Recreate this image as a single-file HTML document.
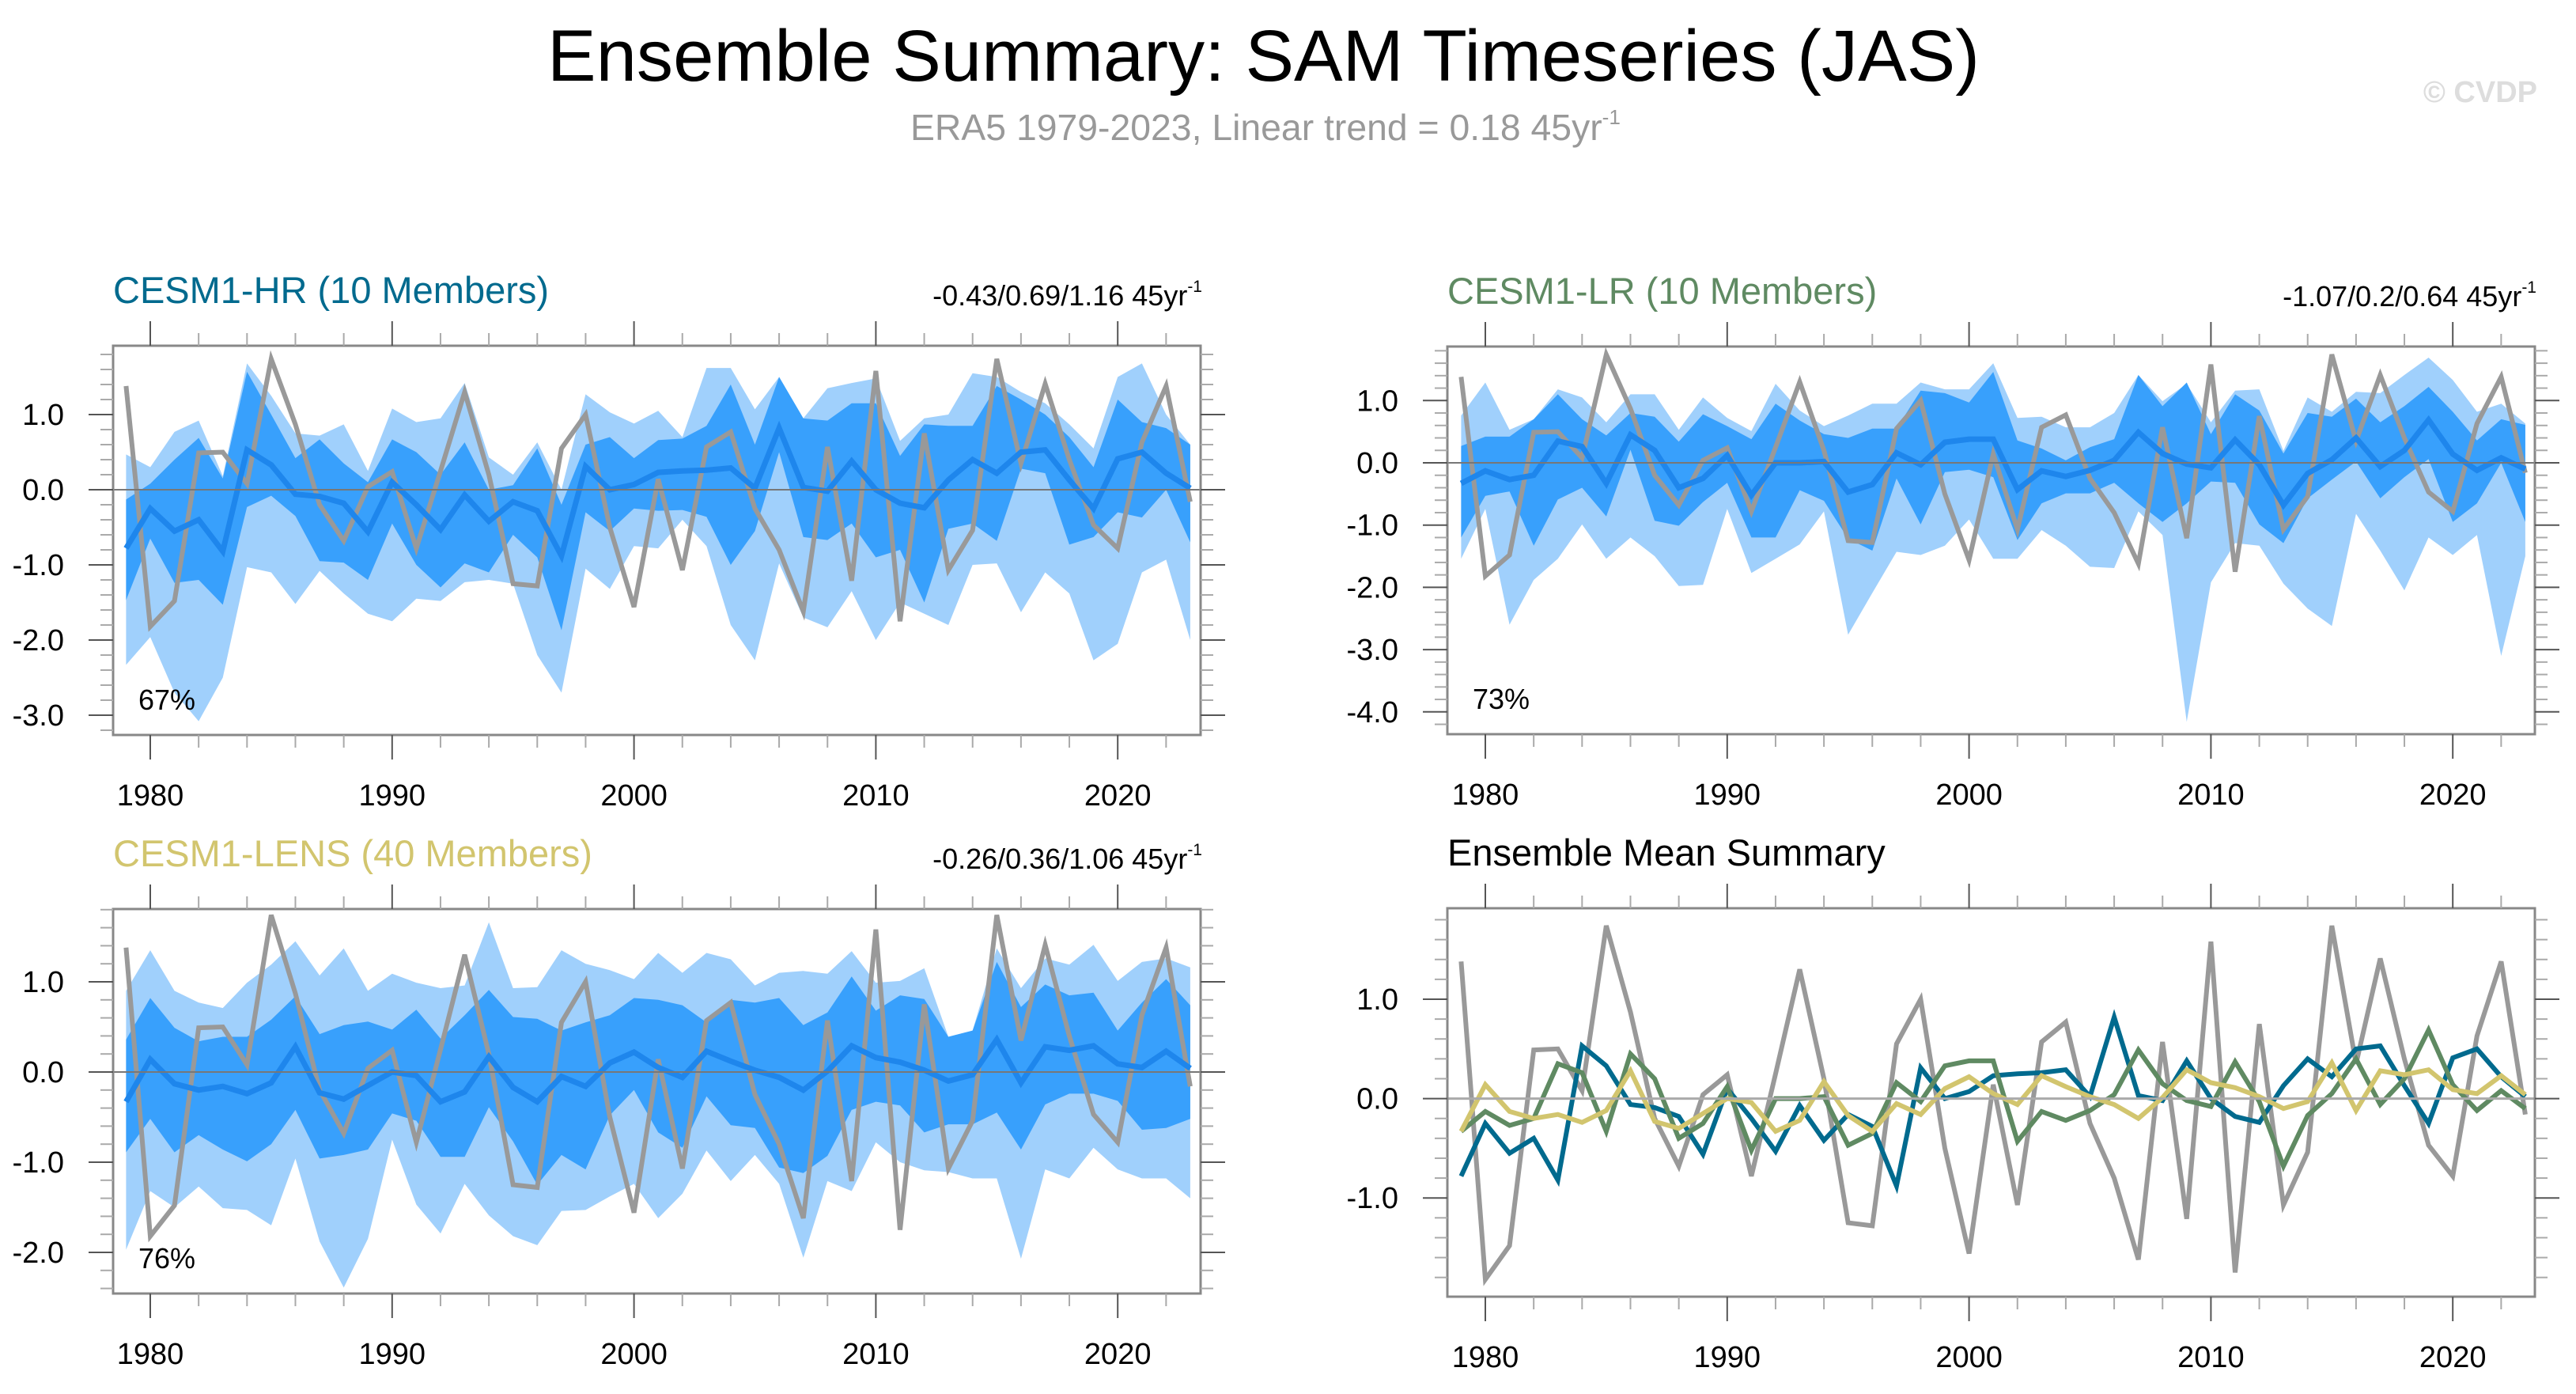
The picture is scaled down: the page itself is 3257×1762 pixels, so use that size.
<!DOCTYPE html>
<html><head><meta charset="utf-8"><style>
html,body{margin:0;padding:0;background:#fff;}
svg{display:block;font-family:"Liberation Sans",sans-serif;}
</style></head><body>
<svg id="chart" width="3257" height="1762" viewBox="0 0 3257 1762" xmlns="http://www.w3.org/2000/svg">
<rect x="0" y="0" width="3257" height="1762" fill="#fff"/>
<text x="692" y="102" font-size="92" textLength="1811" lengthAdjust="spacingAndGlyphs" fill="#000">Ensemble Summary: SAM Timeseries (JAS)</text>
<text x="1151" y="177" font-size="46" textLength="898" lengthAdjust="spacingAndGlyphs" fill="#999">ERA5 1979-2023, Linear trend = 0.18 45yr<tspan font-size="26" dy="-20">-1</tspan></text>
<text x="3208" y="129" font-size="38" font-weight="bold" text-anchor="end" fill="#ddd">© CVDP</text>
<g id="panels"></g>
</svg>
<script>
const years = [];
for (let y = 1979; y <= 2023; y++) years.push(y);
const era5 = [1.38,-1.82,-1.48,0.49,0.5,0.08,1.74,0.87,-0.2,-0.68,0.04,0.24,-0.78,0.25,1.3,0.2,-1.25,-1.28,0.55,1.0,-0.5,-1.56,0.14,-1.07,0.57,0.77,-0.25,-0.8,-1.62,0.57,-1.21,1.58,-1.75,0.75,-1.07,-0.54,1.74,0.35,1.41,0.4,-0.47,-0.78,0.63,1.38,-0.16];
const hrMean = [-0.78,-0.25,-0.55,-0.4,-0.82,0.53,0.33,-0.06,-0.09,-0.18,-0.56,0.1,-0.2,-0.53,-0.07,-0.42,-0.16,-0.28,-0.88,0.31,0.0,0.07,0.23,0.25,0.26,0.29,0.02,0.82,0.03,-0.02,0.38,0.0,-0.18,-0.24,0.13,0.4,0.22,0.5,0.53,0.13,-0.25,0.41,0.5,0.22,0.02];
const lrMean = [-0.33,-0.13,-0.27,-0.2,0.35,0.26,-0.33,0.45,0.2,-0.4,-0.25,0.12,-0.52,0.0,0.0,0.02,-0.47,-0.35,0.16,-0.03,0.33,0.38,0.38,-0.43,-0.13,-0.22,-0.12,0.04,0.49,0.15,-0.02,-0.08,0.37,-0.03,-0.68,-0.17,0.05,0.4,-0.06,0.2,0.69,0.14,-0.12,0.08,-0.1];
const lensMean = [-0.33,0.14,-0.13,-0.2,-0.16,-0.24,-0.12,0.28,-0.23,-0.3,-0.15,0.0,-0.04,-0.33,-0.22,0.17,-0.17,-0.33,-0.05,-0.16,0.1,0.22,0.05,-0.06,0.23,0.12,0.02,-0.06,-0.2,0.01,0.29,0.16,0.11,0.02,-0.1,-0.03,0.36,-0.12,0.28,0.24,0.29,0.09,0.05,0.23,0.04];
const hrMax = [0.47,0.3,0.77,0.92,0.18,1.68,1.25,0.75,0.72,0.87,0.25,1.08,0.9,0.95,1.42,0.43,0.2,0.63,0.0,1.27,1.03,0.88,1.05,0.7,1.62,1.62,1.07,1.5,0.95,1.35,1.42,1.48,0.65,0.95,1.0,1.55,1.5,1.3,1.15,0.87,0.55,1.5,1.68,1.0,0.6];
const hrHi = [-0.13,0.08,0.4,0.69,0.15,1.57,1.0,0.42,0.67,0.35,0.1,0.67,0.5,0.2,0.63,0.0,0.06,0.55,-0.2,0.6,0.7,0.42,0.66,0.68,0.85,1.4,0.6,1.5,0.95,0.92,1.15,1.15,0.45,0.87,0.85,0.85,1.38,1.2,1.0,0.7,0.3,1.2,0.9,0.82,0.6];
const hrLo = [-1.47,-0.65,-1.24,-1.2,-1.53,-0.23,-0.08,-0.35,-0.95,-0.97,-1.2,-0.45,-1.0,-1.3,-0.98,-1.1,-0.6,-0.9,-1.87,-0.3,-0.55,-0.25,-0.28,-0.27,-0.36,-1.0,-0.55,0.5,-0.63,-0.67,-0.45,-0.9,-0.8,-1.5,-0.52,-0.45,-0.68,0.28,0.22,-0.73,-0.63,-0.3,-0.37,0.0,-0.7];
const hrMin = [-2.33,-1.96,-2.7,-3.08,-2.5,-1.03,-1.1,-1.52,-1.08,-1.38,-1.65,-1.75,-1.45,-1.48,-1.23,-1.2,-1.25,-2.2,-2.7,-1.05,-1.32,-0.75,-0.78,-0.4,-0.75,-1.8,-2.27,-0.98,-1.7,-1.83,-1.35,-2.0,-1.5,-1.65,-1.8,-1.0,-0.98,-1.63,-1.1,-1.38,-2.27,-2.05,-1.1,-0.93,-2.0];
const lrMax = [0.76,1.29,0.53,0.7,1.18,1.05,0.65,1.1,1.1,0.53,1.05,0.72,0.51,1.27,0.84,0.59,0.76,0.95,0.95,1.29,1.18,1.18,1.6,0.72,0.74,0.57,0.57,0.8,1.41,0.99,1.27,0.65,1.16,1.18,0.19,1.05,0.82,1.14,1.12,1.41,1.69,1.33,0.82,0.95,0.63];
const lrHi = [0.27,0.42,0.42,0.7,1.1,0.7,0.44,0.8,0.74,0.34,0.78,0.59,0.38,0.95,0.68,0.46,0.4,0.55,0.55,1.16,1.12,0.97,1.46,0.36,0.23,0.04,0.25,0.38,1.41,0.91,1.29,0.46,1.1,0.84,0.15,0.8,0.74,1.03,0.65,0.91,1.22,0.82,0.36,0.7,0.61];
const lrLo = [-1.2,-0.53,-0.46,-1.33,-0.59,-0.4,-0.86,0.21,-0.93,-1.01,-0.63,-0.32,-1.2,-1.2,-0.44,-0.61,-1.22,-1.41,-0.25,-0.99,-0.15,-0.11,-0.23,-1.24,-0.65,-0.49,-0.49,-0.32,-0.65,-0.95,-0.65,-0.3,-0.32,-0.99,-1.29,-0.57,-0.27,0.02,-0.57,-0.23,0.06,-0.95,-0.65,0.0,-0.95];
const lrMin = [-1.54,-0.74,-2.6,-1.88,-1.54,-0.99,-1.54,-1.2,-1.5,-1.98,-1.96,-0.74,-1.77,-1.54,-1.31,-0.78,-2.76,-2.09,-1.43,-1.48,-1.33,-0.91,-1.54,-1.54,-1.08,-1.33,-1.67,-1.69,-0.78,-1.16,-4.16,-1.92,-1.29,-1.33,-1.94,-2.34,-2.62,-0.82,-1.41,-2.05,-1.2,-1.48,-1.16,-3.1,-1.5];
const lensMax = [0.9,1.35,0.9,0.77,0.71,0.99,1.19,1.45,1.07,1.37,0.9,1.09,0.99,0.93,0.96,1.66,0.93,0.94,1.35,1.2,1.13,1.03,1.32,1.1,1.32,1.25,0.96,1.1,1.12,1.09,1.34,0.99,1.01,1.15,0.39,0.46,1.37,0.93,1.26,1.19,1.41,1.01,1.22,1.26,1.16];
const lensHi = [0.36,0.82,0.49,0.34,0.39,0.39,0.58,0.84,0.42,0.52,0.56,0.47,0.69,0.37,0.63,0.91,0.61,0.59,0.46,0.55,0.63,0.82,0.8,0.74,0.55,0.8,0.77,0.82,0.52,0.66,1.06,0.68,0.85,0.81,0.39,0.46,1.22,0.72,0.97,0.85,0.88,0.46,0.77,1.03,0.74];
const lensLo = [-0.89,-0.52,-0.89,-0.7,-0.86,-0.99,-0.8,-0.42,-0.96,-0.92,-0.86,-0.46,-0.54,-0.94,-0.94,-0.39,-0.77,-1.25,-0.92,-1.08,-0.48,-0.2,-0.67,-0.84,-0.27,-0.59,-0.62,-1.06,-1.12,-0.93,-0.42,-0.33,-0.37,-0.67,-0.58,-0.58,-0.45,-0.86,-0.36,-0.24,-0.24,-0.32,-0.64,-0.62,-0.52];
const lensMin = [-1.97,-1.32,-1.5,-1.27,-1.51,-1.53,-1.7,-0.96,-1.88,-2.39,-1.85,-0.75,-1.47,-1.79,-1.24,-1.59,-1.82,-1.92,-1.54,-1.53,-1.38,-1.24,-1.62,-1.35,-0.87,-1.21,-0.92,-1.24,-2.06,-1.21,-1.32,-0.78,-1.0,-1.09,-1.11,-1.18,-1.18,-2.07,-1.08,-1.18,-0.84,-1.08,-1.18,-1.18,-1.4];
const xTickLabels = ["1980","1990","2000","2010","2020"];

const NS = "http://www.w3.org/2000/svg";
const root = document.getElementById("panels");
function mk(tag, attrs, parent) {
  const e = document.createElementNS(NS, tag);
  for (const k in attrs) e.setAttribute(k, attrs[k]);
  (parent || root).appendChild(e);
  return e;
}
function makePanel(cfg) {
  const g = mk("g", {});
  
  
  const xs = yr => cfg.x1980 + (yr - 1980) * cfg.pxYear;
  const ys = v => cfg.y0 - v * cfg.pxUnit;
  const L = cfg.left, R = cfg.right, T = cfg.top, B = cfg.bottom;
  const clipId = cfg.name + "-clip";
  const cp = mk("clipPath", {id: clipId}, g);
  mk("rect", {x: L, y: T, width: R - L, height: B - T}, cp);
  const plot = mk("g", {"clip-path": "url(#" + clipId + ")"}, g);
  function band(up, lo, color, nm) {
    let d = "";
    years.forEach((y, i) => { d += (i ? "L" : "M") + xs(y).toFixed(1) + "," + ys(up[i]).toFixed(1); });
    for (let i = years.length - 1; i >= 0; i--) d += "L" + xs(years[i]).toFixed(1) + "," + ys(lo[i]).toFixed(1);
    const p = mk("path", {d: d + "Z", fill: color}, plot);
    
    
  }
  function line(vals, color, w, nm) {
    const pts = years.map((y, i) => xs(y).toFixed(1) + "," + ys(vals[i]).toFixed(1)).join(" ");
    const p = mk("polyline", {points: pts, fill: "none", stroke: color, "stroke-width": w, "stroke-linejoin": "miter", "stroke-miterlimit": 4}, plot);
    
    
  }
  if (cfg.bands) {
    band(cfg.bands[0], cfg.bands[3], "#a0d0fc", "ensemble-range-band");
    band(cfg.bands[1], cfg.bands[2], "#38a0fc", "ensemble-spread-band");
  }
  const zl = mk("line", {x1: L, x2: R, y1: ys(0), y2: ys(0), stroke: cfg.bands ? "#777" : "#aaa", "stroke-width": cfg.bands ? 2 : 3}, g);
  
  
  cfg.lines.forEach(l => line(l.v, l.c, l.w, l.n));
  const fr = mk("rect", {x: L, y: T, width: R - L, height: B - T, fill: "none", stroke: "#888", "stroke-width": 3}, g);
  
  
  for (let y = 1980; y <= 2022; y += 2) {
    const major = (y % 10 === 0);
    const len = major ? 31 : 16;
    const col = major ? "#555" : "#aaa";
    mk("line", {x1: xs(y), x2: xs(y), y1: T, y2: T - len, stroke: col, "stroke-width": 2}, g);
    mk("line", {x1: xs(y), x2: xs(y), y1: B, y2: B + len, stroke: col, "stroke-width": 2}, g);
  }
  xTickLabels.forEach(s => {
    const t = mk("text", {x: xs(+s), y: B + 89, "font-size": 38, "text-anchor": "middle", fill: "#000"}, g);
    t.textContent = s;
    
    
  });
  for (let k = Math.ceil(cfg.yMin * 5); k <= Math.floor(cfg.yMax * 5); k++) {
    const v = k / 5, major = (k % 5 === 0);
    const len = major ? 31 : 16, col = major ? "#555" : "#aaa";
    mk("line", {x1: L, x2: L - len, y1: ys(v), y2: ys(v), stroke: col, "stroke-width": 2}, g);
    mk("line", {x1: R, x2: R + len, y1: ys(v), y2: ys(v), stroke: col, "stroke-width": 2}, g);
    if (major) {
      const t = mk("text", {x: L - 62, y: ys(v) + 13, "font-size": 38, "text-anchor": "end", fill: "#000"}, g);
      t.textContent = v.toFixed(1);
      
      
    }
  }
  const tt = mk("text", {x: L, y: T - 54, "font-size": 47, fill: cfg.titleColor}, g);
  tt.textContent = cfg.title;
  
  
  if (cfg.stats) {
    const st = mk("text", {x: R + 2, y: T - 51, "font-size": 36, "text-anchor": "end", fill: "#000"}, g);
    st.innerHTML = cfg.stats + ' 45yr<tspan font-size="21" dy="-17">-1</tspan>';
    
    
  }
  if (cfg.pct) {
    const pt = mk("text", {x: L + 32, y: B - 32, "font-size": 36, fill: "#000"}, g);
    pt.textContent = cfg.pct;
    
    
  }
}
makePanel({name: "panel-cesm1-hr", left: 143, right: 1518, top: 437, bottom: 929, x1980: 190, pxYear: 30.58, y0: 619, pxUnit: 95, yMin: -3.2, yMax: 1.8,
  bands: [hrMax, hrHi, hrLo, hrMin], lines: [{v: era5, c: "#999", w: 6, n: "era5-line"}, {v: hrMean, c: "#1e86ec", w: 7, n: "ensemble-mean-line"}],
  title: "CESM1-HR (10 Members)", titleColor: "#006a8e", stats: "-0.43/0.69/1.16", pct: "67%"});
makePanel({name: "panel-cesm1-lr", left: 1830, right: 3205, top: 438, bottom: 928, x1980: 1878, pxYear: 30.58, y0: 585, pxUnit: 78.7, yMin: -4.2, yMax: 1.8,
  bands: [lrMax, lrHi, lrLo, lrMin], lines: [{v: era5, c: "#999", w: 6, n: "era5-line"}, {v: lrMean, c: "#1e86ec", w: 7, n: "ensemble-mean-line"}],
  title: "CESM1-LR (10 Members)", titleColor: "#5f8a62", stats: "-1.07/0.2/0.64", pct: "73%"});
makePanel({name: "panel-cesm1-lens", left: 143, right: 1518, top: 1149, bottom: 1635, x1980: 190, pxYear: 30.58, y0: 1355, pxUnit: 114, yMin: -2.4, yMax: 1.8,
  bands: [lensMax, lensHi, lensLo, lensMin], lines: [{v: era5, c: "#999", w: 6, n: "era5-line"}, {v: lensMean, c: "#1e86ec", w: 7, n: "ensemble-mean-line"}],
  title: "CESM1-LENS (40 Members)", titleColor: "#d2c56e", stats: "-0.26/0.36/1.06", pct: "76%"});
makePanel({name: "panel-ensemble-mean-summary", left: 1830, right: 3205, top: 1148, bottom: 1639, x1980: 1878, pxYear: 30.58, y0: 1388.6, pxUnit: 125.6, yMin: -1.8, yMax: 1.8,
  bands: null, lines: [{v: era5, c: "#999", w: 6, n: "era5-line"}, {v: hrMean, c: "#006a8e", w: 6, n: "cesm1-hr-mean-line"}, {v: lrMean, c: "#5f8a62", w: 6, n: "cesm1-lr-mean-line"}, {v: lensMean, c: "#d2c56e", w: 6, n: "cesm1-lens-mean-line"}],
  title: "Ensemble Mean Summary", titleColor: "#000", stats: null, pct: null});
</script>
</body></html>
